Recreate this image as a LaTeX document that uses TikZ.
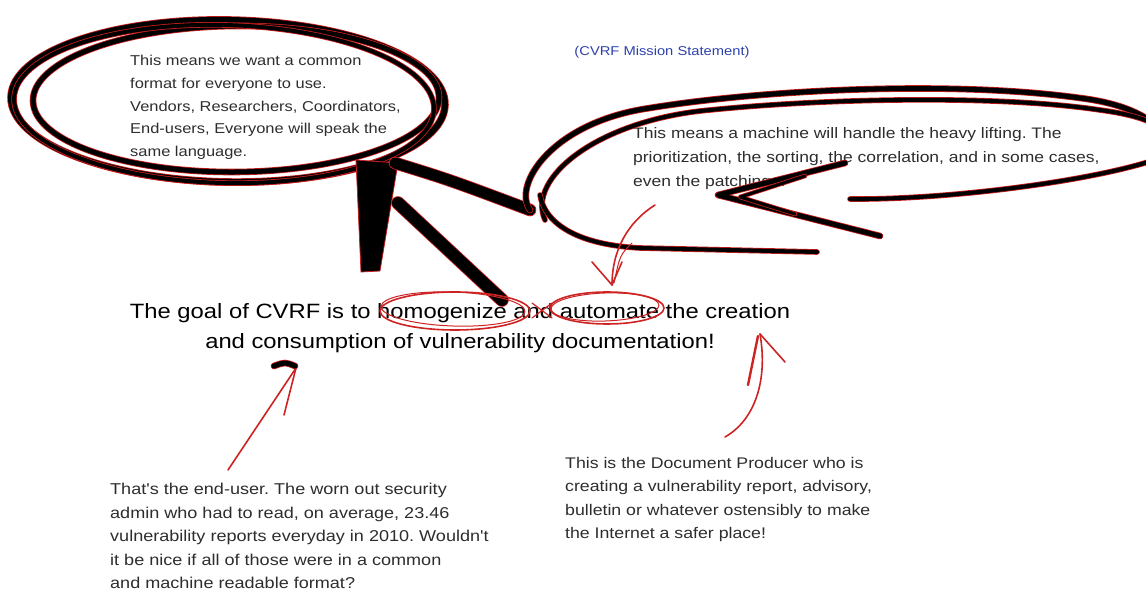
\documentclass[tikz,border=0pt]{standalone}
\usepackage{fontspec}
\newfontfamily\hand[FakeStretch=1.15]{Liberation Sans}
\definecolor{inkred}{RGB}{200,30,30}
\definecolor{penred}{RGB}{205,35,35}
\definecolor{txtgray}{RGB}{45,45,45}
\definecolor{mblue}{RGB}{45,65,170}
\begin{document}
\frenchspacing
\begin{tikzpicture}[x=1pt,y=-1pt,
  ink/.style={draw=inkred, double=black, double distance=#1, line width=0.8pt, line cap=round, line join=round},
  redpen/.style={draw=penred, line width=1.6pt, line cap=round, line join=round},
  txt/.style={align=left, anchor=north west, inner sep=0pt, text=txtgray}]
\useasboundingbox (0,0) rectangle (1146,593);
\clip (0,0) rectangle (1146,593);
% texts
\node[txt, font=\hand\fontsize{14.3}{22.8}\selectfont] (lefttxt) at (130,55)
  {This means we want a common\\format for everyone to use.\\Vendors, Researchers, Coordinators,\\End-users, Everyone will speak the\\same language.};
\node[anchor=center, inner sep=0pt, text=mblue, font=\hand\fontsize{12.8}{15}\selectfont] (mission) at (662,52) {(CVRF Mission Statement)};
\node[txt, font=\hand\fontsize{15.2}{24}\selectfont] (righttxt) at (633,127)
  {This means a machine will handle the heavy lifting. The\\prioritization, the sorting, the correlation, and in some cases,\\even the patching...};
\node[align=center, anchor=north, inner sep=0pt, text=black, font=\hand\fontsize{20.7}{30}\selectfont] (goal) at (460,303)
  {The goal of CVRF is to homogenize and automate the creation\\and consumption of vulnerability documentation!};
\node[txt, font=\hand\fontsize{15.7}{23.6}\selectfont] (enduser) at (110,483)
  {That's the end-user. The worn out security\\admin who had to read, on average, 23.46\\vulnerability reports everyday in 2010. Wouldn't\\it be nice if all of those were in a common\\and machine readable format?};
\node[txt, font=\hand\fontsize{15.4}{23.5}\selectfont] (producer) at (565,457)
  {This is the Document Producer who is\\creating a vulnerability report, advisory,\\bulletin or whatever ostensibly to make\\the Internet a safer place!};
% left scribbled ellipse
\draw[ink=6pt, rotate around={-1:(228,101)}] (228,101) ellipse [x radius=217, y radius=81];
\draw[ink=5pt, rotate around={0.5:(236,99)}] (236,99) ellipse [x radius=203, y radius=73];
\draw[ink=4pt, rotate around={-1.5:(224,104)}] (224,104) ellipse [x radius=210, y radius=79];
% black arrow
\filldraw[fill=black, draw=inkred, line width=0.8pt, line join=round] (356,160) -- (398,163) -- (380,271) -- (361,272) -- cycle;
\draw[ink=12pt] (398,203) -- (502,300);
\draw[ink=11pt] (395,163) .. controls (450,180) .. (530,210);
% right scribbled ellipse
\draw[ink=5pt] (530,210) .. controls (512,185) and (552,122) .. (650,108) .. controls (760,90) and (950,80) .. (1080,98) .. controls (1120,103) and (1150,115) .. (1165,135);
\draw[ink=4pt] (545,220) .. controls (526,178) and (598,120) .. (710,110) .. controls (830,98) and (1000,95) .. (1100,110) .. controls (1130,114) and (1150,120) .. (1160,128);
\draw[ink=4pt] (1160,158) .. controls (1100,180) and (950,200) .. (850,199);
\draw[ink=5pt] (845,163) -- (718,195) -- (880,236);
\draw[ink=3pt] (805,176) -- (740,197) -- (795,214);
\draw[ink=4pt] (540,195) .. controls (545,225) and (580,245) .. (640,248) -- (817,252);
% red arrow down to "automate"
\draw[redpen] (655,205) .. controls (628,222) and (612,250) .. (612,285);
\draw[redpen, line width=1pt] (632,243) .. controls (620,255) .. (614,283);
\draw[redpen] (592,262) -- (612,285) -- (622,262);
% red ellipses around words
\draw[redpen] (455,311) ellipse [x radius=75, y radius=19];
\draw[redpen, line width=1pt, rotate around={-2:(453,309)}] (453,309) ellipse [x radius=72, y radius=17];
\draw[redpen] (607,308) ellipse [x radius=57, y radius=16];
\draw[redpen, line width=1pt, rotate around={2:(605,307)}] (605,307) ellipse [x radius=54, y radius=14];
\draw[redpen, line width=1.2pt] (532,303) -- (552,318) (532,318) -- (552,303);
% bottom-left arrow
\draw[redpen] (228,470) -- (296,368);
\draw[redpen] (296,368) -- (284,415);
\draw[ink=5pt] (274,366) .. controls (285,362) .. (295,366);
% bottom-right arrow
\draw[redpen] (725,437) .. controls (755,420) and (768,380) .. (760,334);
\draw[redpen, line width=2.4pt] (748,385) -- (758,336);
\draw[redpen] (760,334) -- (785,362);
\end{tikzpicture}
\end{document}
